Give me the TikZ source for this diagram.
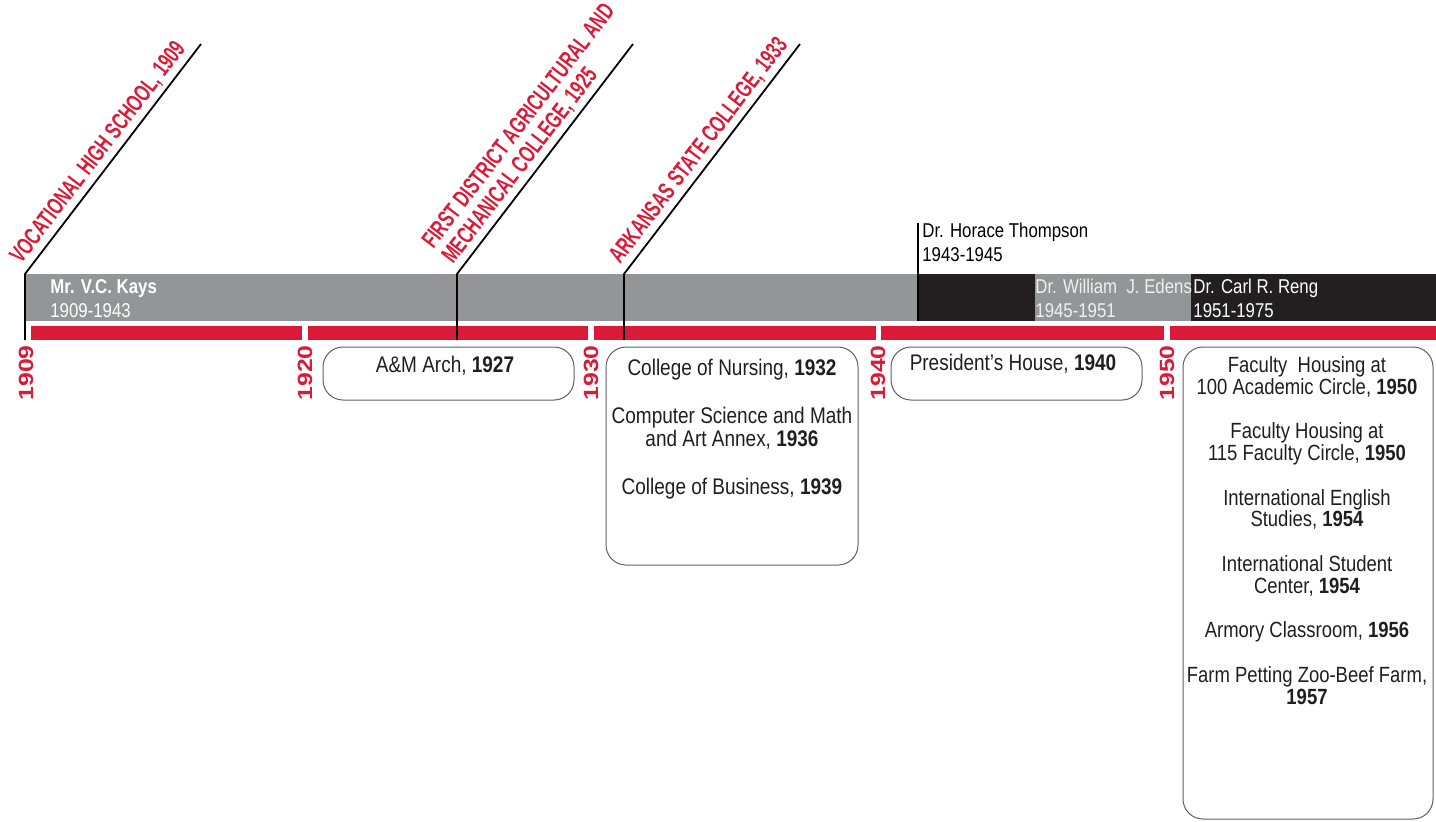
\documentclass[tikz,border=0pt]{standalone}
\usepackage{fontspec}
\setmainfont{Liberation Sans}[FakeStretch=0.84]
\newfontfamily\tagfont{Liberation Sans}[FakeStretch=0.68]
\newfontfamily\yearfont{Liberation Sans}[FakeStretch=1.2]
\usetikzlibrary{positioning}

\definecolor{asured}{RGB}{218,26,54}
\definecolor{bargray}{RGB}{147,149,152}
\definecolor{barblack}{RGB}{35,31,32}
\definecolor{boxline}{RGB}{95,95,95}

\tikzset{
    leader/.style={line width=0.9pt, black},
    tag/.style={sloped, anchor=south west, align=left, inner sep=2pt, text=asured,
        font=\tagfont\bfseries\fontsize{12}{12.5}\selectfont},
    yearlbl/.style={rotate=90, anchor=east, inner sep=0pt, text=asured,
        font=\yearfont\bfseries\fontsize{10.3}{10}\selectfont},
    era/.style={anchor=north west, align=left, inner sep=0pt,
        font=\fontsize{10}{12}\selectfont},
    bldg/.style={draw=boxline, line width=0.5pt, rounded corners=10pt},
    bldgtxt/.style={anchor=north, align=center, inner sep=0pt, text=black!88}
}

\begin{document}
\begin{tikzpicture}[x=0.5pt, y=-0.5pt]

    \useasboundingbox (0,0) rectangle (1436,821);

    % 1. 校长任期色带
    \fill[bargray]  (25,274) rectangle (1436,321);
    \fill[barblack] (918,274) rectangle (1436,321);
    \fill[bargray]  (1035,274) rectangle (1191,321);

    \node[era, text=white] (kays) at (50,279) {\textbf{Mr. V.C. Kays}\\1909-1943};
    \node[era] (thompson) at (922,223) {Dr. Horace Thompson\\1943-1945};
    \node[era, text=white!94!black] (edens) at (1035,279) {Dr. William\ \ J. Edens\\1945-1951};
    \node[era, text=white] (reng) at (1193,279) {Dr. Carl R. Reng\\1951-1975};
    \draw[leader] (918,321) -- (thompson.north west -| 918,0);

    % 2. 红色年代轴 (按十年分段)
    \foreach \a/\b in {31/302, 308/588, 594/876, 881/1164, 1170/1436}
        \fill[asured] (\a,326) rectangle (\b,340);

    \node[yearlbl] (y1909) at (26,345) {1909};
    \foreach \yr/\xx in {1920/305, 1930/591, 1940/878, 1950/1167}
        \node[yearlbl] (y\yr) at (\xx,345) {\yr};

    % 3. 校名沿革：竖线穿过色带后斜向引出
    \foreach \xx/\nm/\txt in {25/vhs/{VOCATIONAL HIGH SCHOOL, 1909},
            457/fdam/{FIRST DISTRICT AGRICULTURAL AND\\MECHANICAL COLLEGE, 1925},
            624/asc/{ARKANSAS STATE COLLEGE, 1933}}
    {
        \coordinate (\nm_base) at (\xx,340);
        \draw[leader] (\nm_base) -- ++(0,-66) coordinate (\nm_bend)
            -- ++(176,-230) coordinate (\nm_tip)
            node[tag, pos=0] (\nm) {\txt};
    }

    % 4. 各年代建筑框
    \draw[bldg] (323,347) rectangle (574,400);
    \node[bldgtxt, font=\fontsize{11.3}{11}\selectfont] (arch) at (445,356)
        {A\&M Arch, \textbf{1927}};

    \draw[bldg] (606,347) rectangle (858,565);
    \node[bldgtxt, font=\fontsize{11.3}{11.5}\selectfont] (dec30) at (732,359)
        {College of Nursing, \textbf{1932}\\[12.5pt]
         Computer Science and Math\\and Art Annex, \textbf{1936}\\[12.5pt]
         College of Business, \textbf{1939}};

    \draw[bldg] (891,347) rectangle (1142,400);
    \node[bldgtxt, font=\fontsize{11.3}{11}\selectfont] (house) at (1013,354)
        {President’s House, \textbf{1940}};

    \draw[bldg] (1183,347) rectangle (1433,819);
    \node[bldgtxt, font=\fontsize{11}{10.9}\selectfont] (dec50) at (1307,356)
        {Faculty\ \ Housing at\\100 Academic Circle, \textbf{1950}\\[11.4pt]
         Faculty Housing at\\115 Faculty Circle, \textbf{1950}\\[11.4pt]
         International English\\Studies, \textbf{1954}\\[11.4pt]
         International Student\\Center, \textbf{1954}\\[11.4pt]
         Armory Classroom, \textbf{1956}\\[11.4pt]
         Farm Petting Zoo-Beef Farm,\\\textbf{1957}};

\end{tikzpicture}
\end{document}
